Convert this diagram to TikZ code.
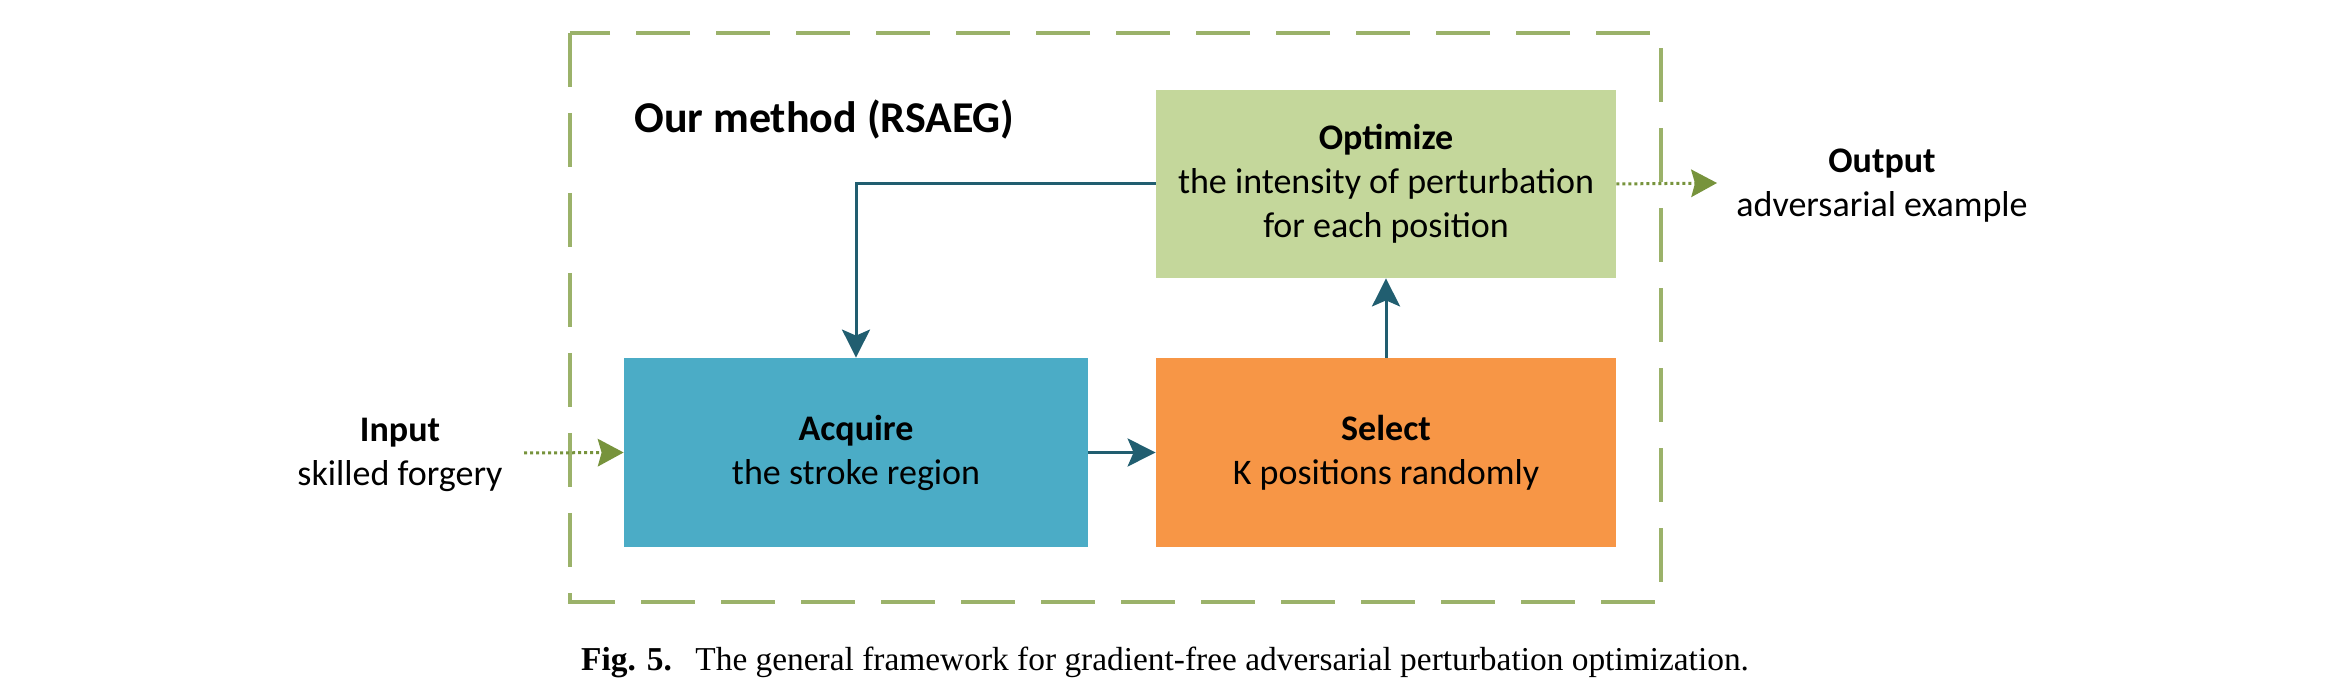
\documentclass[tikz,border=0pt]{standalone}
\usepackage{fontspec}
\setmainfont{Carlito}
\newfontfamily\capfont{Liberation Serif}
\usetikzlibrary{arrows.meta}
\definecolor{frameg}{HTML}{9BB26A}
\definecolor{optg}{HTML}{C4D79B}
\definecolor{acqb}{HTML}{4BACC6}
\definecolor{selo}{HTML}{F79646}
\definecolor{teal}{HTML}{215E70}
\definecolor{oliv}{HTML}{77933C}
\tikzset{
  stepbox/.style={draw=none, inner sep=0pt, align=center, font=\fontsize{18}{22}\selectfont},
  label/.style={inner sep=0pt, align=center, font=\fontsize{18}{22}\selectfont},
  flow/.style={draw=teal, line width=1.5pt, -{Stealth[length=14pt,width=14pt,inset=3pt]}},
  io/.style={draw=oliv, line width=1.5pt, dash pattern=on 1.5pt off 1.5pt, -{Stealth[length=13pt,width=14pt,inset=2pt,line width=0pt]}},
}
\begin{document}
\begin{tikzpicture}[x=0.5pt,y=-0.5pt]
\useasboundingbox (0,0) rectangle (2328,694);
\draw[frameg, line width=2.2pt, dash pattern=on 27pt off 13pt] (570,33) rectangle (1661,602);
\node[anchor=west, inner sep=0pt, font=\fontsize{22}{26}\selectfont\bfseries] (title) at (634,120) {Our method (RSAEG)};
\node[stepbox, fill=optg, minimum width=230pt, minimum height=94pt] (opt) at (1386,184)
  {\textbf{Optimize}\\the intensity of perturbation\\for each position};
\node[stepbox, fill=acqb, minimum width=232pt, minimum height=94.5pt] (acq) at (856,452.5)
  {\textbf{Acquire}\\the stroke region};
\node[stepbox, fill=selo, minimum width=230pt, minimum height=94.5pt] (sel) at (1386,452.5)
  {\textbf{Select}\\K positions randomly};
\node[label] (in) at (400,455) {\textbf{Input}\\skilled forgery};
\node[label] (out) at (1882,186) {\textbf{Output}\\adversarial example};
\coordinate (inS) at (524,453);
\coordinate (outE) at (1717,183);
\draw[flow] (acq.east) -- (sel.west);
\draw[flow] (sel.north) -- (opt.south);
\draw[flow] (opt.west) -| (acq.north);
\draw[io] (inS) -- (acq.west);
\draw[io] (opt.east) -- (outE);
\node[inner sep=0pt, font=\capfont\fontsize{16.7}{19}\selectfont] (cap) at (1165,662)
  {\textbf{Fig. 5.}\hspace{0.7em}The general framework for gradient-free adversarial perturbation optimization.};
\end{tikzpicture}
\end{document}
